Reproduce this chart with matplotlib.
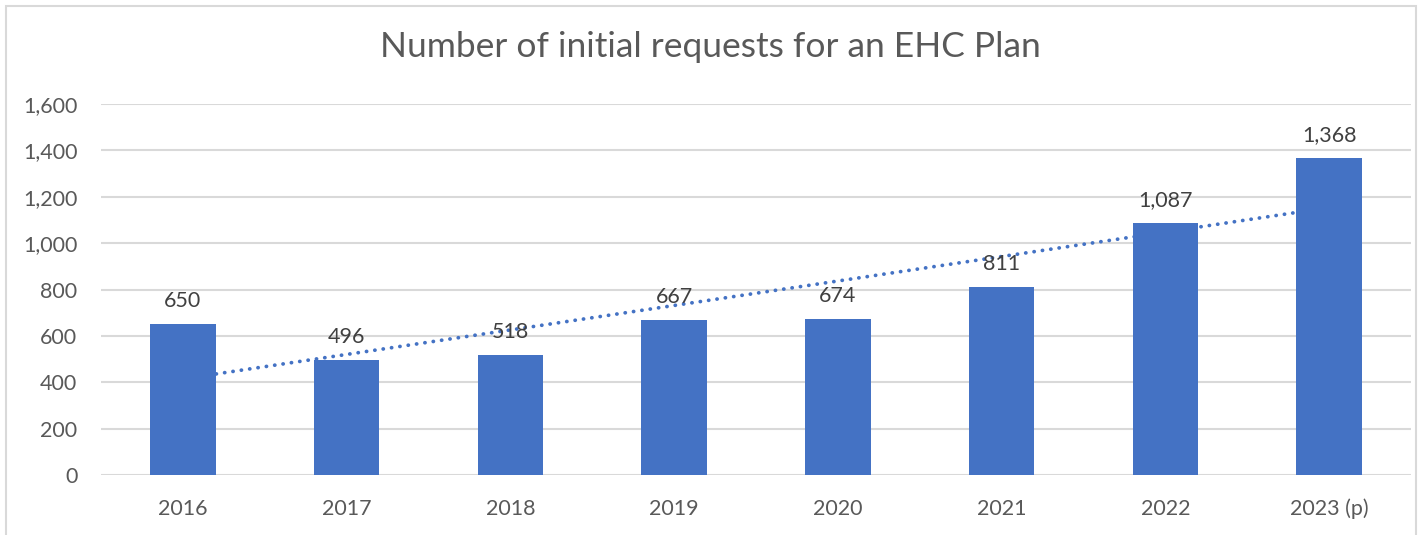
import matplotlib
matplotlib.use("Agg")
import matplotlib.pyplot as plt
import numpy as np
from matplotlib.patches import Rectangle

categories = ["2016", "2017", "2018", "2019", "2020", "2021", "2022", "2023 (p)"]
values = [650, 496, 518, 667, 674, 811, 1087, 1368]
yticks = [0, 200, 400, 600, 800, 1000, 1200, 1400, 1600]
title = "Number of initial requests for an EHC Plan"

plt.rcParams['font.family'] = ['Lato', 'DejaVu Sans']

W, H = 1420, 535
fig = plt.figure(figsize=(W / 100, H / 100), dpi=100)
ax = fig.add_axes([101 / W, 1 - 475 / H, (1411 - 101) / W, (475 - 104) / H])

x = np.arange(len(categories))
bar_color = "#4472C4"
ax.bar(x, values, width=0.40, color=bar_color, zorder=3)

# linear trendline (behind bars)
coef = np.polyfit(x, values, 1)
ax.plot(x, np.polyval(coef, x), linestyle=(0, (0.05, 2.2)), color=bar_color,
        linewidth=2.7, zorder=2, dash_capstyle="round")

for xi, v in zip(x, values):
    ax.annotate(f"{v:,}", (xi, v), xytext=(0, 13), textcoords="offset pixels",
                ha="center", va="bottom", fontsize=15.5, color="#404040")

ax.set_xlim(-0.5, len(categories) - 0.5)
ax.set_ylim(0, 1600)
ax.set_yticks(yticks)
ax.set_yticklabels([f"{t:,}" for t in yticks])
ax.set_xticks(x)
ax.set_xticklabels(categories)
ax.tick_params(axis="both", length=0, labelsize=15.5, labelcolor="#595959")
ax.tick_params(axis="y", pad=17)
ax.tick_params(axis="x", pad=17)
ax.grid(axis="y", color="#D9D9D9", linewidth=1.5, zorder=0)
ax.set_axisbelow(True)
for s in ax.spines.values():
    s.set_visible(False)

fig.text(710 / W, 1 - 47 / H, title, ha="center", va="center", fontsize=25.5,
         color="#595959")

fig.patches.append(Rectangle((6 / W, -0.1), (1416 - 6) / W, 1.1 - 6 / H,
                             transform=fig.transFigure, fill=False,
                             edgecolor="#D9D9D9", linewidth=1.5))

fig.savefig("out.png", dpi=100)
